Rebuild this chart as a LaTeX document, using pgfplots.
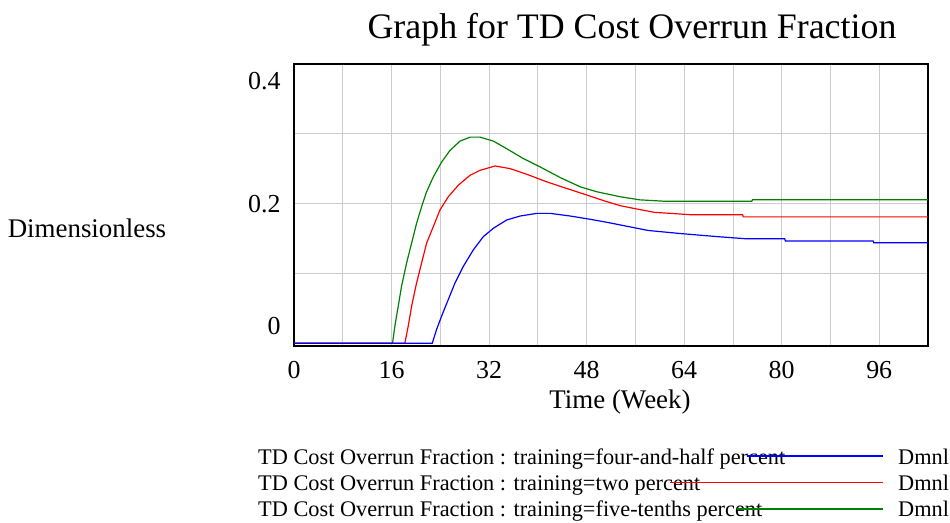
\documentclass[border=0pt]{standalone}
\usepackage{pgfplots}
\pgfplotsset{compat=1.18}
\usepackage{fontspec}
\setmainfont{Liberation Serif}
\definecolor{vgreen}{HTML}{008000}
\definecolor{vred}{HTML}{FF0000}
\definecolor{vblue}{HTML}{0000FF}
\definecolor{vgrid}{HTML}{CCCCCC}
\begin{document}
\begin{tikzpicture}
\path[use as bounding box] (0bp,0bp) rectangle (950bp,523bp);
\begin{axis}[
  at={(294bp,177bp)}, anchor=south west,
  width=634bp, height=282bp, scale only axis,
  xmin=0, xmax=104, ymin=-0.004, ymax=0.4,
  xtick={0,16,32,48,64,80,96},
  minor xtick={8,24,40,56,72,88,104},
  ytick={0.025,0.2,0.375},
  yticklabels={0,0.2,0.4},
  minor ytick={0.1,0.2,0.3},
  xmajorgrids, xminorgrids, yminorgrids, ymajorgrids=false,
  grid style={vgrid, line width=0.8pt},
  minor grid style={vgrid, line width=0.8pt},
  major tick length=0pt, minor tick length=0pt,
  axis line style={black, line width=2.2pt},
  tick label style={font=\fontsize{26}{28}\selectfont},
  /pgf/number format/assume math mode=true,
  xticklabel style={yshift=-12bp},
  yticklabel style={xshift=-10bp},
  clip=true,
]
\addplot[vgreen, line width=1.2pt] coordinates {
(0,0)(16.16,0)(16.55,0.0247)(17.10,0.053)(17.64,0.0816)(18.47,0.1149)(19.29,0.1433)(20.11,0.1718)(20.93,0.1955)(21.75,0.2169)(22.85,0.2382)(24.22,0.2596)(25.59,0.2762)(27.23,0.2895)(28.88,0.2952)(30.52,0.2952)(32.71,0.2895)(34.90,0.2786)(37.64,0.2644)(40.38,0.2525)(43.67,0.2373)(46.96,0.224)(49.70,0.2169)(53.53,0.2098)(56.7,0.2054)(60.5,0.2035)(75.1,0.2035)(75.2,0.2054)(104,0.2054)
};
\addplot[vred, line width=1.2pt] coordinates {
(0,0)(18.19,0)(18.74,0.0247)(19.29,0.053)(20.11,0.0864)(20.93,0.1149)(21.75,0.1433)(22.85,0.167)(23.94,0.1908)(25.31,0.2098)(26.96,0.2264)(28.88,0.2406)(30.52,0.2477)(32.98,0.2539)(35.45,0.2501)(38.19,0.242)(41.48,0.2311)(44.77,0.2216)(48.05,0.2122)(51.34,0.2027)(53.53,0.197)(55.8,0.193)(59.1,0.1875)(65.2,0.184)(73.6,0.184)(73.7,0.181)(104,0.181)
};
\addplot[vblue, line width=1.2pt] coordinates {
(0,0)(22.68,0)(23.40,0.0199)(24.22,0.0389)(25.31,0.0626)(26.41,0.0864)(27.78,0.1101)(29.42,0.1338)(31.07,0.1528)(32.71,0.1647)(34.90,0.1766)(37.09,0.1822)(39.83,0.186)(42.03,0.186)(45.31,0.1822)(48.60,0.1775)(51.34,0.1732)(53.53,0.1694)(58.1,0.1615)(63.5,0.157)(69.0,0.153)(74.0,0.1497)(80.5,0.1497)(80.6,0.1465)(95.0,0.1465)(95.1,0.144)(104,0.144)
};
\end{axis}
\node[font=\fontsize{36}{38}\selectfont] at (632bp,493bp) {Graph for TD Cost Overrun Fraction};
\node[font=\fontsize{27}{29}\selectfont] at (87bp,295bp) {Dimensionless};
\node[font=\fontsize{27}{29}\selectfont] at (620bp,121bp) {Time (Week)};
\begin{scope}[font=\fontsize{22.4}{24}\selectfont]
\node[anchor=base west, inner sep=0pt] at (258bp,58bp) {TD Cost Overrun Fraction : training=four-and-half percent};
\node[anchor=base west, inner sep=0pt] at (258bp,32.3bp) {TD Cost Overrun Fraction : training=two percent};
\node[anchor=base west, inner sep=0pt] at (258bp,6.3bp) {TD Cost Overrun Fraction : training=five-tenths percent};
\draw[vblue, line width=1.2pt] (746.7bp,67bp) -- (883bp,67bp);
\draw[vred, line width=1.2pt] (670bp,40.3bp) -- (883bp,40.3bp);
\draw[vgreen, line width=1.2pt] (736.7bp,14bp) -- (883bp,14bp);
\node[anchor=base west, inner sep=0pt] at (898bp,58bp) {Dmnl};
\node[anchor=base west, inner sep=0pt] at (898bp,32.3bp) {Dmnl};
\node[anchor=base west, inner sep=0pt] at (898bp,6.3bp) {Dmnl};
\end{scope}
\end{tikzpicture}
\end{document}
